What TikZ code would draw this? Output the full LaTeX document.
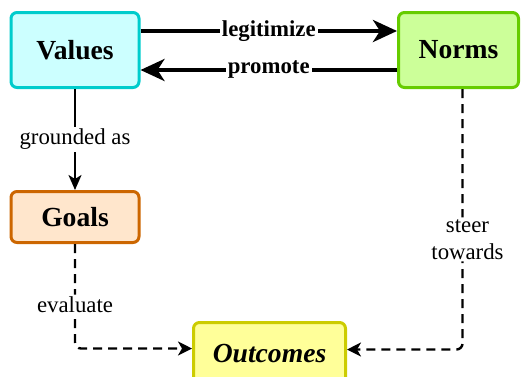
\documentclass[tikz,border=0pt]{standalone}
\usepackage{fontspec}
\setmainfont{Liberation Serif}
\usetikzlibrary{arrows.meta,positioning}

\definecolor{valuefill}{HTML}{CCFFFF}
\definecolor{valuedraw}{HTML}{00CCCC}
\definecolor{normfill}{HTML}{CCFF99}
\definecolor{normdraw}{HTML}{66CC00}
\definecolor{goalfill}{HTML}{FFE6CC}
\definecolor{goaldraw}{HTML}{CC6600}
\definecolor{outcomefill}{HTML}{FFFF99}
\definecolor{outcomedraw}{HTML}{CCCC00}

\begin{document}
\begin{tikzpicture}[
				x=0.5pt,y=-0.5pt,
				box/.style={
					draw,
					rounded corners=3pt,
					line width=1.5pt,
					inner sep=0pt,
					font=\fontsize{13.8}{16}\selectfont\bfseries
				},
				lbl/.style={
					fill=white,
					inner sep=1pt,
					align=center,
					font=\fontsize{11.4}{13.5}\selectfont
				},
				bigarrow/.style={
					line width=2pt,
					-{Stealth[length=12pt,width=11pt,inset=3.5pt]}
				},
				dasharrow/.style={
					line width=1.2pt,
					dash pattern=on 4.5pt off 3pt,
					rounded corners=3pt,
					-{Stealth[length=7pt,width=7pt,inset=2pt]}
				}
			]
			\useasboundingbox (0,0) rectangle (522,376);
			\node[box,fill=valuefill,draw=valuedraw,minimum width=64pt,minimum height=37.5pt] at (75,50)
			(values) {Values};
			\node[box,fill=normfill,draw=normdraw,minimum width=60pt,minimum height=37.5pt] at (458.5,50)
			(norms) {Norms};
			\node[box,fill=goalfill,draw=goaldraw,minimum width=64pt,minimum height=25.5pt] at (75,217)
			(goals) {Goals};
			\node[box,fill=outcomefill,draw=outcomedraw,minimum width=76pt,minimum height=32pt,font=\fontsize{13.8}{16}\selectfont\bfseries\itshape] at (269.5,354.5)
			(outcomes) {\raisebox{1pt}{Outcomes}};

			\draw[bigarrow] ([yshift=9.5pt]values.east) -- node[lbl,font=\fontsize{11.4}{13.5}\selectfont\bfseries] {legitimize} ([yshift=9.5pt]norms.west);
			\draw[bigarrow] ([yshift=-10pt]norms.west) -- node[lbl,font=\fontsize{11.4}{13.5}\selectfont\bfseries] {promote} ([yshift=-10pt]values.east);
			\draw[line width=1pt,-{Stealth[length=7.5pt,width=6.5pt,inset=2pt]}] (values) -- node[lbl] {grounded as} (goals);
			\draw[dasharrow] (goals.south) |- node[lbl,pos=0.29] {evaluate} ([yshift=3pt]outcomes.west);
			\draw[dasharrow] ([xshift=2pt]norms.south) |- node[lbl,pos=0.2885,xshift=2.5pt] {steer\\towards} ([yshift=2.5pt]outcomes.east);
		\end{tikzpicture}
\end{document}
